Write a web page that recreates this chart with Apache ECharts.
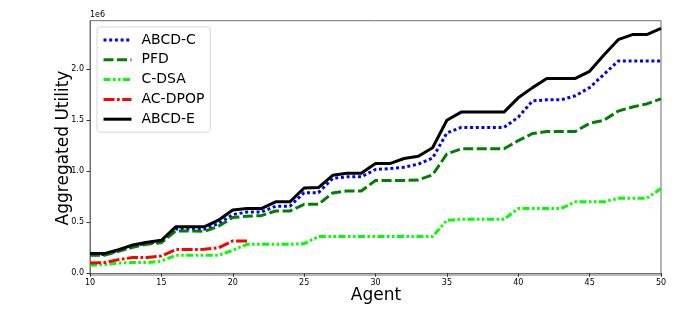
<!DOCTYPE html>
<html>
<head>
<meta charset="utf-8">
<script src="https://cdn.jsdelivr.net/npm/echarts@6/dist/echarts.min.js"></script>
<style>
  html, body { margin: 0; padding: 0; background: #fff; }
  #main { width: 677px; height: 328px; }
</style>
</head>
<body>
<div id="main"></div>
<script>
// values in units of 1e6
var agents = [10,11,12,13,14,15,16,17,18,19,20,21,22,23,24,25,26,27,28,29,30,
              31,32,33,34,35,36,37,38,39,40,41,42,43,44,45,46,47,48,49,50];
var abcdC = [0.185,0.185,0.222,0.268,0.295,0.312,0.434,0.434,0.432,0.487,0.575,0.60,0.60,0.657,0.657,0.79,0.79,0.93,0.945,0.945,1.017,
             1.026,1.04,1.07,1.13,1.375,1.43,1.43,1.43,1.43,1.53,1.69,1.70,1.70,1.74,1.82,1.95,2.08,2.08,2.08,2.08];
var pfd = [0.176,0.176,0.215,0.255,0.285,0.30,0.415,0.415,0.41,0.46,0.546,0.56,0.565,0.61,0.61,0.676,0.676,0.787,0.807,0.807,0.91,
           0.91,0.91,0.915,0.965,1.17,1.22,1.22,1.22,1.22,1.30,1.37,1.39,1.39,1.39,1.47,1.50,1.59,1.63,1.66,1.71];
var cdsa = [0.078,0.085,0.10,0.105,0.105,0.12,0.176,0.176,0.176,0.176,0.225,0.284,0.284,0.284,0.284,0.29,0.36,0.36,0.36,0.36,0.36,
            0.36,0.36,0.36,0.36,0.52,0.53,0.53,0.53,0.53,0.634,0.634,0.634,0.634,0.70,0.70,0.70,0.735,0.735,0.735,0.83];
var acdpop = [0.10,0.105,0.134,0.154,0.154,0.17,0.232,0.232,0.235,0.25,0.317,0.317];
var abcdE = [0.193,0.193,0.232,0.277,0.304,0.323,0.455,0.455,0.455,0.52,0.62,0.634,0.634,0.70,0.70,0.836,0.84,0.96,0.98,0.98,1.075,
             1.075,1.125,1.147,1.23,1.50,1.58,1.58,1.58,1.58,1.72,1.82,1.91,1.91,1.91,1.98,2.14,2.29,2.34,2.34,2.40];
var yTicks = [0, 0.5, 1.0, 1.5, 2.0];

function pairs(vals) {
	return vals.map(function (v, i) { return [agents[i], v]; });
}

var font = 'DejaVu Sans';
var myChart = echarts.init(document.getElementById('main'));

function line(name, vals, color, type) {
	return {
		name: name,
		type: 'line',
		symbol: 'none',
		data: pairs(vals),
		lineStyle: { color: color, width: 3, type: type, cap: 'butt', join: 'round' },
		itemStyle: { color: color },
		emphasis: { disabled: true }
	};
}

option = {
	animation: false,
	textStyle: { fontFamily: font },
	grid: {
		left: 90, right: 16, top: 20.7, bottom: 53,
		show: true, borderColor: '#6e6e6e', borderWidth: 1
	},
	legend: {
		orient: 'vertical',
		left: 97, top: 27,
		padding: [6, 6, 6, 5],
		itemWidth: 28, itemHeight: 14, itemGap: 5.8,
		backgroundColor: '#fff',
		borderColor: '#d8d8d8', borderWidth: 1, borderRadius: 3,
		itemStyle: { opacity: 0 },
		lineStyle: { width: 3 },
		textStyle: { fontFamily: font, fontSize: 14, color: '#000', lineHeight: 14, padding: [0, 0, 0, 5] },
		data: ['ABCD-C', 'PFD', 'C-DSA', 'AC-DPOP', 'ABCD-E']
	},
	xAxis: {
		type: 'value',
		min: 10, max: 50, interval: 5,
		axisLine: { lineStyle: { color: '#6e6e6e', width: 1 } },
		axisTick: { length: 3.5, lineStyle: { color: '#333' } },
		axisLabel: { fontFamily: font, fontSize: 8, color: '#000', margin: 4 },
		splitLine: { show: false }
	},
	yAxis: {
		type: 'value',
		min: -0.017, max: 2.476,
		axisLine: { show: true, lineStyle: { color: '#6e6e6e', width: 1 } },
		axisTick: { show: true, length: 3.5, lineStyle: { color: '#333' }, customValues: yTicks },
		axisLabel: {
			fontFamily: font, fontSize: 8, color: '#000', margin: 6,
			customValues: yTicks,
			formatter: function (v) { return v.toFixed(1); }
		},
		splitLine: { show: false }
	},
	graphic: [
		{ type: 'text', x: 90, y: 15, style: { text: '1e6', font: '8px "DejaVu Sans"', fill: '#000', textVerticalAlign: 'middle' } },
		{ type: 'text', x: 376, y: 296, style: { text: 'Agent', font: '17px "DejaVu Sans"', fill: '#000', textAlign: 'center', textVerticalAlign: 'middle' } },
		{ type: 'text', x: 64, y: 148, rotation: Math.PI / 2,
		  style: { text: 'Aggregated Utility', font: '17px "DejaVu Sans"', fill: '#000', textAlign: 'center', textVerticalAlign: 'middle' } }
	],
	series: [
		line('ABCD-C', abcdC, '#0000ff', [3, 2.7]),
		line('PFD', pfd, '#008000', [10, 3.5]),
		line('C-DSA', cdsa, '#00ff00', [7, 2.5, 2.5, 2.5, 2.5, 2.5]),
		{
			name: 'AC-DPOP', type: 'line', symbol: 'none',
			data: acdpop.map(function (v, i) { return [agents[i], v]; }),
			lineStyle: { color: '#ff0000', width: 3, type: [11, 2.5, 2.7, 2.5], cap: 'butt' },
			itemStyle: { color: '#ff0000' },
			emphasis: { disabled: true }
		},
		line('ABCD-E', abcdE, '#000000', 'solid')
	]
};

myChart.setOption(option);
</script>
</body>
</html>
